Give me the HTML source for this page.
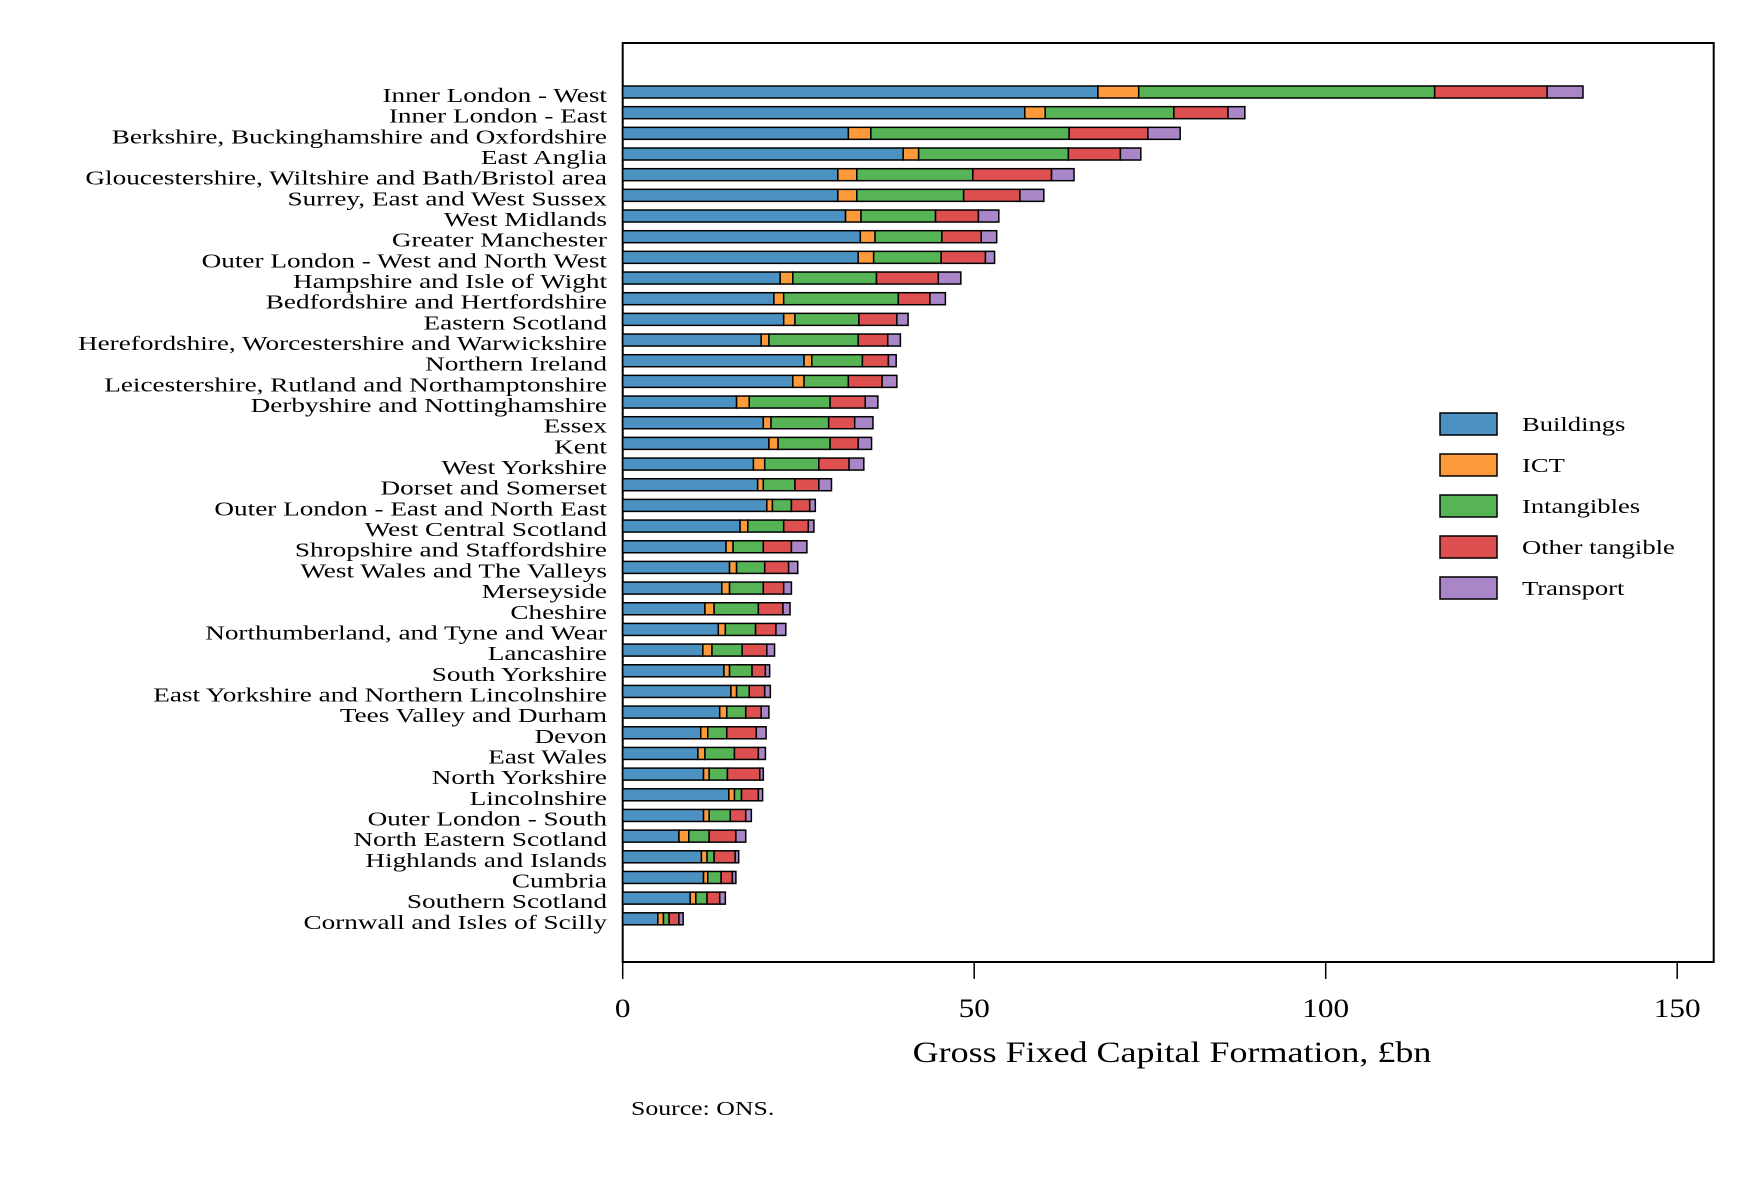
<!DOCTYPE html>
<html><head><meta charset="utf-8"><style>
body{margin:0;background:#fff}
svg text{font-family:"Liberation Serif",serif;fill:#000}
</style></head><body>
<svg width="1760" height="1174" id="chart">
<rect x="622.7" y="43" width="1091" height="919" fill="none" stroke="#000" stroke-width="2"/>
<g id="bars"></g><g id="labels"></g><g id="xaxis"></g><g id="legend"></g>
<text transform="translate(1172,1062) scale(1.2,1)" font-size="30" text-anchor="middle">Gross Fixed Capital Formation, £bn</text>
<text transform="translate(631,1115) scale(1.29,1)" font-size="20">Source: ONS.</text>
</svg>
<script>
const regions=["Inner London - West","Inner London - East","Berkshire, Buckinghamshire and Oxfordshire","East Anglia","Gloucestershire, Wiltshire and Bath/Bristol area","Surrey, East and West Sussex","West Midlands","Greater Manchester","Outer London - West and North West","Hampshire and Isle of Wight","Bedfordshire and Hertfordshire","Eastern Scotland","Herefordshire, Worcestershire and Warwickshire","Northern Ireland","Leicestershire, Rutland and Northamptonshire","Derbyshire and Nottinghamshire","Essex","Kent","West Yorkshire","Dorset and Somerset","Outer London - East and North East","West Central Scotland","Shropshire and Staffordshire","West Wales and The Valleys","Merseyside","Cheshire","Northumberland, and Tyne and Wear","Lancashire","South Yorkshire","East Yorkshire and Northern Lincolnshire","Tees Valley and Durham","Devon","East Wales","North Yorkshire","Lincolnshire","Outer London - South","North Eastern Scotland","Highlands and Islands","Cumbria","Southern Scotland","Cornwall and Isles of Scilly"];
const buildings=[67.6,57.2,32.1,39.9,30.6,30.6,31.7,33.8,33.5,22.4,21.5,22.9,19.7,25.8,24.2,16.2,20.0,20.8,18.6,19.2,20.5,16.7,14.7,15.2,14.1,11.7,13.6,11.4,14.4,15.4,13.8,11.1,10.7,11.5,15.1,11.5,8.0,11.2,11.5,9.6,5.0];
const ict=[5.8,2.9,3.2,2.2,2.7,2.7,2.2,2.1,2.2,1.8,1.4,1.6,1.1,1.1,1.6,1.8,1.1,1.3,1.6,0.8,0.8,1.1,1.0,1.0,1.1,1.3,1.0,1.3,0.8,0.8,1.0,1.0,1.0,0.8,0.8,0.8,1.4,0.8,0.6,0.8,0.8];
const intangibles=[42.1,18.3,28.2,21.3,16.5,15.2,10.6,9.5,9.6,11.9,16.3,9.1,12.7,7.2,6.3,11.5,8.2,7.4,7.7,4.5,2.7,5.1,4.3,4.0,4.8,6.3,4.3,4.3,3.2,1.8,2.7,2.7,4.2,2.6,1.0,3.0,2.9,1.0,1.9,1.6,0.8];
const otherTangible=[16.0,7.7,11.2,7.4,11.2,8.0,6.1,5.6,6.3,8.8,4.5,5.4,4.2,3.7,4.8,5.0,3.7,4.0,4.3,3.4,2.6,3.5,4.0,3.4,2.9,3.5,2.9,3.5,1.9,2.2,2.2,4.2,3.4,4.6,2.4,2.2,3.8,3.0,1.6,1.8,1.4];
const transport=[5.1,2.4,4.6,2.9,3.2,3.4,2.9,2.2,1.3,3.2,2.2,1.6,1.8,1.1,2.1,1.8,2.6,1.9,2.1,1.8,0.8,0.8,2.2,1.3,1.1,1.0,1.4,1.1,0.6,0.8,1.1,1.4,1.0,0.5,0.6,0.8,1.4,0.5,0.5,0.8,0.6];
const seriesNames=["Buildings","ICT","Intangibles","Other tangible","Transport"];
const colors=["#4b92c3","#fe9a3a","#56b356","#de5050","#a886c8"];
const xTicks=[0,50,100,150];

const NS="http://www.w3.org/2000/svg";
const X0=622.7,PX=7.03,Y0=92,DY=20.67,BH=12;
const xs=v=>X0+v*PX, ys=i=>Y0+i*DY;
function mk(tag,at,parent){const e=document.createElementNS(NS,tag);for(const k in at)e.setAttribute(k,at[k]);parent.appendChild(e);return e;}
const series=[buildings,ict,intangibles,otherTangible,transport];
const gb=document.getElementById('bars'),gl=document.getElementById('labels'),gx=document.getElementById('xaxis'),gg=document.getElementById('legend');
regions.forEach((r,i)=>{
  let acc=0;
  series.forEach((s,k)=>{
    const r1=mk('rect',{x:xs(acc),y:ys(i)-BH/2,width:s[i]*PX,height:BH,fill:colors[k],stroke:'#000','stroke-width':1.5},gb);
    
    
    acc+=s[i];
  });
  const t=mk('text',{transform:'translate(607,'+(ys(i)+10)+') scale(1.36,1)','font-size':20,'text-anchor':'end'},gl);
  t.textContent=r;
  
  
});
xTicks.forEach(v=>{
  const l=mk('line',{x1:xs(v),x2:xs(v),y1:962,y2:979,stroke:'#000','stroke-width':1.5},gx);
  
  
  const t=mk('text',{transform:'translate('+xs(v)+',1017) scale(1.2,1)','font-size':26,'text-anchor':'middle'},gx);
  t.textContent=v;
  
  
});
seriesNames.forEach((n,k)=>{
  const y=413+k*41;
  const r=mk('rect',{x:1440,y:y,width:57,height:22,fill:colors[k],stroke:'#000','stroke-width':1.5},gg);
  
  
  const t=mk('text',{transform:'translate(1522,'+(y+18)+') scale(1.33,1)','font-size':20},gg);
  t.textContent=n;
  
  
});
</script>
</body></html>
